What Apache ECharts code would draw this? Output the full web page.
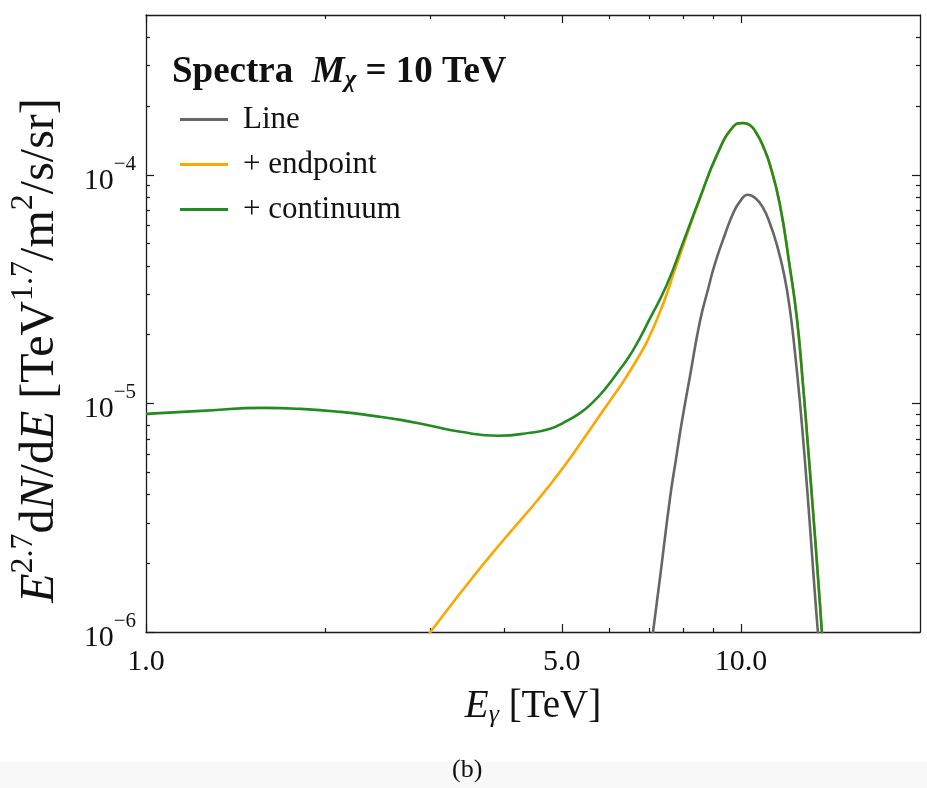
<!DOCTYPE html>
<html>
<head>
<meta charset="utf-8">
<script src="https://cdn.jsdelivr.net/npm/echarts@6/dist/echarts.min.js"></script>
<style>
  html, body { margin: 0; padding: 0; background: #fff; }
  #chart { width: 927px; height: 788px; }
</style>
</head>
<body>
<div id="chart"></div>
<script>
// E in TeV, flux in TeV^1.7/m^2/s/sr
const lineE = [7.0, 7.117, 7.313, 7.602, 7.78, 7.962, 8.212, 8.535, 8.803, 9.045, 9.401, 9.696, 9.961, 10.27, 10.56, 10.89, 11.19, 11.49, 11.81, 12.08, 12.32, 12.56, 12.81, 13.06, 13.31, 13.47, 13.68]
const lineFlux = [7.1e-7, 1.0e-6, 1.736e-6, 3.87e-6, 5.73e-6, 8.39e-6, 1.318e-5, 2.29e-5, 3.15e-5, 4.09e-5, 5.48e-5, 6.76e-5, 7.63e-5, 8.18e-5, 7.94e-5, 7.18e-5, 6.12e-5, 4.95e-5, 3.70e-5, 2.61e-5, 1.693e-5, 1.025e-5, 5.62e-6, 2.93e-6, 1.49e-6, 1.0e-6, 6.2e-7]

const endpointE = [2.9, 3.007, 3.51, 3.987, 4.547, 5.028, 5.514, 5.801, 6.589, 7.228, 7.809, 7.992, 8.535, 9.114, 9.696, 10.08, 10.35, 10.64, 10.89, 11.19, 11.63, 12.08, 12.42, 12.71, 12.95, 13.21, 13.47, 13.68, 13.89]
const endpointFlux = [8.8e-7, 1.0e-6, 1.685e-6, 2.52e-6, 3.76e-6, 5.24e-6, 7.36e-6, 8.91e-6, 1.457e-5, 2.335e-5, 4.09e-5, 4.86e-5, 7.9e-5, 1.22e-4, 1.617e-4, 1.683e-4, 1.65e-4, 1.506e-4, 1.336e-4, 1.104e-4, 7.38e-5, 3.96e-5, 2.35e-5, 1.22e-5, 6.7e-6, 3.45e-6, 1.76e-6, 1.0e-6, 5.6e-7]

const continuumE = [1.0, 1.237, 1.578, 1.82, 2.124, 2.413, 2.679, 3.007, 3.378, 3.911, 4.426, 4.781, 5.028, 5.37, 5.646, 5.913, 6.266, 6.589, 7.037, 7.513, 7.992, 8.535, 9.114, 9.696, 10.08, 10.35, 10.64, 10.89, 11.19, 11.63, 12.08, 12.42, 12.71, 12.95, 13.21, 13.47, 13.68, 13.89]
const continuumFlux = [9.0e-6, 9.27e-6, 9.56e-6, 9.46e-6, 9.18e-6, 8.82e-6, 8.47e-6, 7.98e-6, 7.51e-6, 7.22e-6, 7.44e-6, 7.74e-6, 8.22e-6, 9.09e-6, 1.015e-5, 1.157e-5, 1.413e-5, 1.71e-5, 2.36e-5, 3.32e-5, 5.05e-5, 7.94e-5, 1.222e-4, 1.619e-4, 1.685e-4, 1.652e-4, 1.508e-4, 1.338e-4, 1.106e-4, 7.4e-5, 3.97e-5, 2.36e-5, 1.228e-5, 6.73e-6, 3.47e-6, 1.77e-6, 1.0e-6, 5.6e-7]

const xMajor = [1, 5, 10]
const xMinor = [2, 3, 4, 6, 7, 8, 9]
const yMajor = [1e-6, 1e-5, 1e-4]
const yMinor = [2e-6, 3e-6, 4e-6, 5e-6, 6e-6, 7e-6, 8e-6, 9e-6, 2e-5, 3e-5, 4e-5, 5e-5, 6e-5, 7e-5, 8e-5, 9e-5, 2e-4, 3e-4, 4e-4]

const FONT = '"Liberation Serif", "DejaVu Serif", serif'
const INK = '#1a1a1a'

const pairs = (xs, ys) => xs.map((x, i) => [x, ys[i]])

function xAx(pos, major) {
  return {
    type: 'log', logBase: 10, min: 1, max: 20, position: pos,
    axisLine: { show: major, onZero: false, lineStyle: { color: INK, width: 1.3 } },
    axisTick: { show: true, inside: true, length: major ? 8 : 4, customValues: major ? xMajor : xMinor, lineStyle: { color: INK, width: 1.2 } },
    axisLabel: {
      show: major && pos === 'bottom', customValues: xMajor, margin: 15,
      fontFamily: FONT, fontSize: 30, color: '#111',
      formatter: v => Number(v).toFixed(1)
    },
    splitLine: { show: false },
    name: major && pos === 'bottom' ? '{i|E}{sub|γ}{r| [TeV]}' : '',
    nameLocation: 'middle', nameGap: 54,
    nameTextStyle: {
      rich: {
        i: { fontFamily: FONT, fontStyle: 'italic', fontSize: 39, color: '#111', lineHeight: 42 },
        sub: { fontFamily: FONT, fontStyle: 'italic', fontSize: 26, color: '#111', lineHeight: 20, verticalAlign: 'bottom' },
        r: { fontFamily: FONT, fontSize: 39, color: '#111', lineHeight: 42 }
      }
    }
  }
}

function yAx(pos, major) {
  return {
    type: 'log', logBase: 10, min: 1e-6, max: 5e-4, position: pos,
    axisLine: { show: major, onZero: false, lineStyle: { color: INK, width: 1.3 } },
    axisTick: { show: true, inside: true, length: major ? 8 : 4, customValues: major ? yMajor : yMinor, lineStyle: { color: INK, width: 1.2 } },
    axisLabel: {
      show: major && pos === 'left', customValues: yMajor, margin: 10,
      formatter: v => '{b|10}{s|−' + Math.round(-Math.log10(v)) + '}',
      rich: {
        b: { fontFamily: FONT, fontSize: 30, color: '#111', lineHeight: 42, verticalAlign: 'bottom' },
        s: { fontFamily: FONT, fontSize: 21, color: '#111', lineHeight: 22, verticalAlign: 'top' }
      }
    },
    splitLine: { show: false },
    name: major && pos === 'left' ? '{i|E}{sup|2.7}{r|d}{i|N}{r|/d}{i|E}{r| [TeV}{sup|1.7}{r|/m}{sup|2}{r|/s/sr]}' : '',
    nameLocation: 'middle', nameGap: 82,
    nameTextStyle: {
      padding: [0, 54, 0, 0],
      rich: {
        i: { fontFamily: FONT, fontStyle: 'italic', fontSize: 48, color: '#111', lineHeight: 56, verticalAlign: 'bottom' },
        r: { fontFamily: FONT, fontSize: 48, color: '#111', lineHeight: 56, verticalAlign: 'bottom' },
        sup: { fontFamily: FONT, fontSize: 32, color: '#111', lineHeight: 30, verticalAlign: 'top' }
      }
    }
  }
}

const chart = echarts.init(document.getElementById('chart'))

const option = {
  animation: false,
  textStyle: { fontFamily: FONT },
  grid: { left: 145, right: 7, top: 15, bottom: 156, containLabel: false },
  title: {
    left: 167, top: 46,
    text: '{b|Spectra }{i| M}{sub|χ}{r| = 10 }{b|TeV}',
    textStyle: {
      rich: {
        b: { fontFamily: FONT, fontWeight: 'bold', fontSize: 37, color: '#111', lineHeight: 42 },
        i: { fontFamily: FONT, fontStyle: 'italic', fontSize: 37, color: '#111', lineHeight: 42 },
        sub: { fontFamily: FONT, fontStyle: 'italic', fontSize: 25, color: '#111', lineHeight: 18, verticalAlign: 'bottom' },
        r: { fontFamily: FONT, fontSize: 37, color: '#111', lineHeight: 42 }
      }
    }
  },
  legend: {
    left: 180, top: 104, orient: 'vertical', padding: 0,
    icon: 'rect', itemWidth: 48, itemHeight: 3, itemGap: 14,
    selectedMode: false,
    data: ['Line', '+ endpoint', '+ continuum'],
    textStyle: { fontFamily: FONT, fontSize: 31, color: '#111', lineHeight: 30, padding: [0, 0, 0, 10] }
  },
  xAxis: [xAx('bottom', true), xAx('bottom', false), xAx('top', true), xAx('top', false)],
  yAxis: [yAx('left', true), yAx('left', false), yAx('right', true), yAx('right', false)],
  series: [
    {
      name: 'Line', type: 'line', xAxisIndex: 0, yAxisIndex: 0,
      data: pairs(lineE, lineFlux), symbol: 'none', smooth: 0.5,
      lineStyle: { color: '#666666', width: 2.6 }, itemStyle: { color: '#666666' }
    },
    {
      name: '+ endpoint', type: 'line', xAxisIndex: 0, yAxisIndex: 0,
      data: pairs(endpointE, endpointFlux), symbol: 'none', smooth: 0.5,
      lineStyle: { color: '#ffa500', width: 2.6 }, itemStyle: { color: '#ffa500' }
    },
    {
      name: '+ continuum', type: 'line', xAxisIndex: 0, yAxisIndex: 0,
      data: pairs(continuumE, continuumFlux), symbol: 'none', smooth: 0.5,
      lineStyle: { color: '#228b22', width: 2.6 }, itemStyle: { color: '#228b22' }
    }
  ],
  graphic: [
    { type: 'rect', left: 0, top: 762, shape: { width: 927, height: 26 }, style: { fill: '#f8f8f8' }, silent: true },
    { type: 'text', left: 452, top: 757, style: { text: '(b)', font: '26px ' + FONT, fill: '#111' } }
  ]
}

chart.setOption(option)
</script>
</body>
</html>
